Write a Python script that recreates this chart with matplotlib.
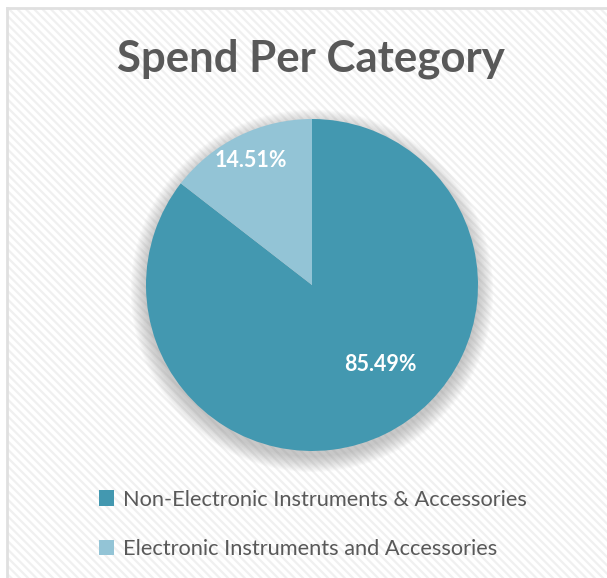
import matplotlib
matplotlib.use('Agg')
import matplotlib.pyplot as plt
from matplotlib.patches import Rectangle, Circle

# data
categories = ['Non-Electronic Instruments & Accessories', 'Electronic Instruments and Accessories']
shares = [85.49, 14.51]
colors = ['#4398b0', '#93c4d6']
label_pos = [(0.41, -0.48), (-0.37, 0.75)]  # where Excel put the % labels

plt.rcParams['font.family'] = ['Lato', 'DejaVu Sans']
plt.rcParams['hatch.linewidth'] = 1.6
plt.rcParams['hatch.color'] = '#f0f0f0'

W, H = 607, 578
fig = plt.figure(figsize=(W / 100, H / 100), dpi=100)
fig.patch.set_facecolor('white')

# striped chart area background with grey border on top/left
bg = Rectangle((8 / W, 0), 1 - 8 / W, 1 - 8 / H, transform=fig.transFigure,
               facecolor='white', hatch='\\\\\\\\', edgecolor='#f0f0f0', linewidth=0, zorder=-5)
fig.patches.append(bg)
fig.add_artist(plt.Line2D([7 / W, 7 / W], [0, 1 - 8 / H], color='#e0e0e0', lw=2, transform=fig.transFigure, zorder=-4))
fig.add_artist(plt.Line2D([7 / W, 1], [1 - 8 / H, 1 - 8 / H], color='#e0e0e0', lw=2, transform=fig.transFigure, zorder=-4))

# pie axes: centre (312,285) px, radius 166 px
cx, cy, r = 312, 285, 166
ax = fig.add_axes([(cx - r * 1.15) / W, (H - cy - r * 1.15) / H, 2.3 * r / W, 2.3 * r / H])
ax.set_zorder(2)

# soft shadow
for i in range(14):
    ax.add_patch(Circle((0, -0.035), 1.0 + 0.007 * i, color='#8a8a8a', alpha=0.04, lw=0, zorder=0))

wedges, _ = ax.pie(shares, colors=colors, startangle=90, counterclock=False, radius=1.0,
                   wedgeprops={'linewidth': 0})
for w in wedges:
    w.set_zorder(2)
for v, (x, y) in zip(shares, label_pos):
    ax.text(x, y, f'{v:.2f}%', color='white', fontsize=15.5, fontweight='bold',
            ha='center', va='center', zorder=3)
ax.set_xlim(-1.15, 1.15)
ax.set_ylim(-1.15, 1.15)
ax.set_aspect('equal')
ax.axis('off')

fig.text(0.512, 1 - 59 / H, 'Spend Per Category', fontsize=31.5, fontweight='bold',
         color='#595959', ha='center', va='center', zorder=5)

# legend
handles = [Rectangle((0, 0), 1, 1, facecolor=c, edgecolor='none') for c in colors]
leg = fig.legend(handles, categories, loc='upper left', bbox_to_anchor=(79 / W, 1 - 470 / H),
                 frameon=False, fontsize=15.7, labelcolor='#595959', handlelength=0.7,
                 handleheight=0.7, handletextpad=0.4, labelspacing=1.35)

fig.savefig('out.png', dpi=100)
